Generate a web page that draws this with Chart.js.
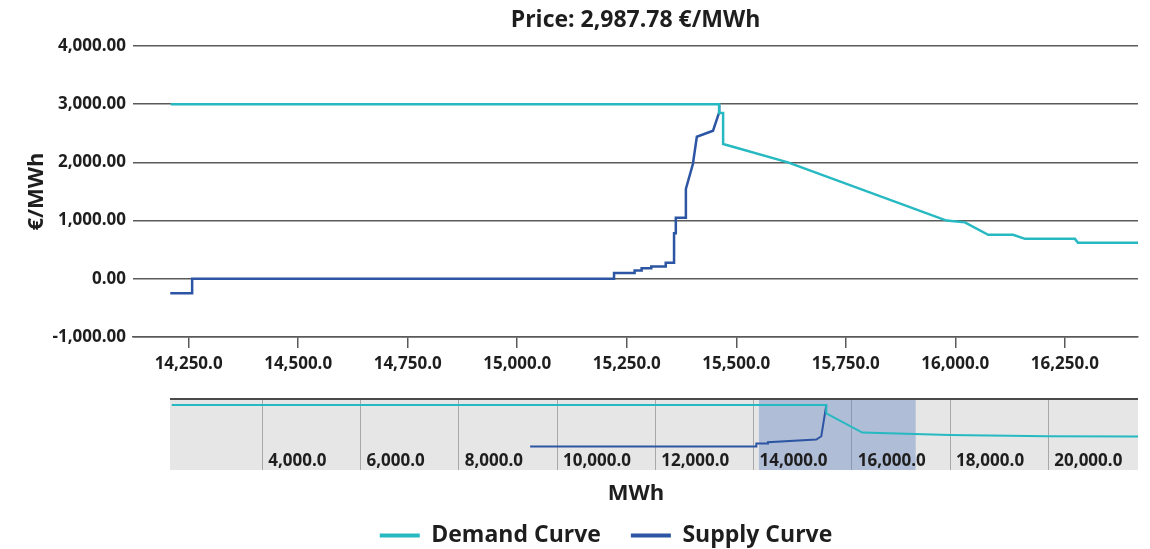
<!DOCTYPE html>
<html><head><meta charset="utf-8">
<script src="https://cdn.jsdelivr.net/npm/chart.js@4.4.1/dist/chart.umd.min.js"></script>
<style>
html,body{margin:0;padding:0;background:#fff;width:1150px;height:549px;overflow:hidden;}
canvas{display:block;}
</style></head><body>
<div style="position:absolute;left:0;top:0;width:1150px;height:385px"><canvas id="main" width="1150" height="385"></canvas></div>
<div style="position:absolute;left:0;top:385px;width:1150px;height:172px"><canvas id="nav" width="1150" height="172"></canvas></div>
<script>
// ---- text ----
const chartTitle = 'Price: 2,987.78 €/MWh';
const yAxisTitle = '€/MWh';
const xAxisTitle = 'MWh';
const seriesNames = ['Demand Curve', 'Supply Curve'];

// ---- main chart data (zoomed view) ----
const demandMWh   = [14209, 15461, 15461, 15470, 15470, 15618, 15980, 16022, 16075, 16132, 16159, 16273, 16280, 16417];
const demandPrice = [3000, 3000, 2847, 2847, 2316, 2000, 1000, 970, 755, 755, 686, 686, 618, 618];
const supplyMWh   = [14208, 14258, 14258, 15221, 15221, 15268, 15268, 15284, 15284, 15306, 15306, 15339, 15339, 15358, 15358, 15362, 15362, 15385, 15385, 15401, 15410, 15447, 15461, 15461];
const supplyPrice = [-250, -250, 0, 0, 100, 100, 142, 142, 183, 183, 211, 211, 274, 274, 784, 784, 1050, 1050, 1544, 1973, 2441, 2544, 2859, 2988];
const mainXRange  = [14123, 16417];
const mainXTicks  = [14250, 14500, 14750, 15000, 15250, 15500, 15750, 16000, 16250];
const mainYTicks  = [-1000, 0, 1000, 2000, 3000, 4000];

// ---- navigator data (full range) ----
const navDemandMWh   = [2157, 15481, 15481, 16213, 17990, 19985, 21825];
const navDemandPrice = [3000, 3000, 2376, 925, 752, 654, 625];
const navSupplyMWh   = [9452, 14057, 14057, 14293, 14293, 15277, 15379, 15481];
const navSupplyPrice = [-130, -130, 100, 100, 200, 400, 650, 3000];
const navXRange      = [2122, 21825];
const navYRange      = [-1890, 3376];
const navXTicks      = [4000, 6000, 8000, 10000, 12000, 14000, 16000, 18000, 20000];
const navSelection   = [14110, 17300];

// ---- style ----
const DEMAND_COLOR = '#27b9c1';
const SUPPLY_COLOR = '#2c55a3';
const GRID_DARK = '#5a5a5a';
const TEXT = '#1e1e1e';
const FONT = "'Open Sans', 'Noto Sans', sans-serif";
Chart.defaults.font.family = FONT;
Chart.defaults.color = TEXT;

const fmt = (v, d) => Number(v).toLocaleString('en-US', {minimumFractionDigits: d, maximumFractionDigits: d});
const pts = (xs, ys) => xs.map((x, i) => ({x, y: ys[i]}));

const titlePlugin = {
  id: 'centerTitle',
  afterDraw(chart) {
    const {ctx, chartArea} = chart;
    ctx.save();
    ctx.font = `bold 23px ${FONT}`;
    ctx.fillStyle = TEXT;
    ctx.textAlign = 'center';
    ctx.textBaseline = 'middle';
    ctx.fillText(chartTitle, (chartArea.left + chartArea.right) / 2, 20);
    ctx.restore();
  }
};

new Chart(document.getElementById('main'), {
  type: 'line',
  data: {
    datasets: [
      {label: seriesNames[0], data: pts(demandMWh, demandPrice), borderColor: DEMAND_COLOR, backgroundColor: DEMAND_COLOR, borderWidth: 2.5, pointRadius: 0, tension: 0, fill: false},
      {label: seriesNames[1], data: pts(supplyMWh, supplyPrice), borderColor: SUPPLY_COLOR, backgroundColor: SUPPLY_COLOR, borderWidth: 2.5, pointRadius: 0, tension: 0, fill: false}
    ]
  },
  options: {
    responsive: false, animation: false,
    layout: {padding: {top: 46, right: 12, left: 0, bottom: 0}},
    plugins: {legend: {display: false}, tooltip: {enabled: false}, title: {display: false}},
    scales: {
      x: {
        type: 'linear', min: mainXRange[0], max: mainXRange[1],
        afterBuildTicks: s => { s.ticks = mainXTicks.map(v => ({value: v})); },
        afterFit: s => { s.height = 48; },
        grid: {drawOnChartArea: false, drawTicks: true, tickLength: 11, color: GRID_DARK, lineWidth: 1.5},
        border: {display: true, color: GRID_DARK, width: 1.5},
        ticks: {font: {size: 17, weight: 'bold'}, color: TEXT, padding: 6, maxRotation: 0, autoSkip: false, callback: v => fmt(v, 1)}
      },
      y: {
        min: mainYTicks[0], max: mainYTicks[mainYTicks.length - 1],
        afterBuildTicks: s => { s.ticks = mainYTicks.map(v => ({value: v})); },
        afterFit: s => { s.width = 133; },
        grid: {color: GRID_DARK, lineWidth: 1.5, drawTicks: false},
        border: {display: false},
        ticks: {font: {size: 17, weight: 'bold'}, color: TEXT, padding: 7, callback: v => fmt(v, 2)},
        title: {display: true, text: yAxisTitle, font: {size: 22, weight: 'bold'}, color: TEXT, padding: {top: 24, bottom: 0}}
      }
    }
  },
  plugins: [titlePlugin]
});

const navPlugin = {
  id: 'navDecor',
  beforeDraw(chart) {
    const {ctx, chartArea: a} = chart;
    ctx.save();
    ctx.fillStyle = '#e6e6e6';
    ctx.fillRect(a.left, a.top, a.right - a.left, a.bottom - a.top);
    ctx.restore();
  },
  beforeDatasetsDraw(chart) {
    const {ctx, chartArea: a, scales: {x}} = chart;
    const x0 = x.getPixelForValue(navSelection[0]);
    const x1 = x.getPixelForValue(navSelection[1]);
    ctx.save();
    ctx.fillStyle = 'rgba(102,133,194,0.42)';
    ctx.fillRect(x0, a.top, x1 - x0, a.bottom - a.top);
    ctx.restore();
  },
  afterDraw(chart) {
    const {ctx, chartArea: a, scales: {x}} = chart;
    ctx.save();
    ctx.strokeStyle = '#4a4a4a';
    ctx.lineWidth = 2;
    ctx.beginPath();
    ctx.moveTo(a.left, a.top - 1);
    ctx.lineTo(a.right, a.top - 1);
    ctx.stroke();
    ctx.font = `bold 17px ${FONT}`;
    ctx.fillStyle = TEXT;
    ctx.textAlign = 'left';
    ctx.textBaseline = 'middle';
    navXTicks.forEach(v => ctx.fillText(fmt(v, 1), x.getPixelForValue(v) + 6, a.bottom - 9));
    ctx.font = `bold 22px ${FONT}`;
    ctx.textAlign = 'center';
    ctx.fillText(xAxisTitle, 636, a.bottom + 24);
    ctx.restore();
  }
};

new Chart(document.getElementById('nav'), {
  type: 'line',
  data: {
    datasets: [
      {label: seriesNames[0], data: pts(navDemandMWh, navDemandPrice), borderColor: DEMAND_COLOR, backgroundColor: DEMAND_COLOR, borderWidth: 2, pointRadius: 0, tension: 0, fill: false},
      {label: seriesNames[1], data: pts(navSupplyMWh, navSupplyPrice), borderColor: SUPPLY_COLOR, backgroundColor: SUPPLY_COLOR, borderWidth: 2, pointRadius: 0, tension: 0, fill: false}
    ]
  },
  options: {
    responsive: false, animation: false,
    layout: {padding: {top: 15, right: 12, left: 74, bottom: 0}},
    plugins: {
      tooltip: {enabled: false},
      legend: {
        display: true, position: 'bottom',
        labels: {
          usePointStyle: true, pointStyle: 'line', pointStyleWidth: 40,
          font: {size: 23, weight: 'bold'}, color: TEXT, padding: 30,
          generateLabels: c => Chart.defaults.plugins.legend.labels.generateLabels(c).map(l => ({...l, lineWidth: 4, pointStyle: 'line'}))
        }
      }
    },
    scales: {
      x: {
        type: 'linear', min: navXRange[0], max: navXRange[1],
        afterBuildTicks: s => { s.ticks = navXTicks.map(v => ({value: v})); },
        afterFit: s => { s.height = 24; },
        grid: {color: '#a8a8a8', lineWidth: 1, drawTicks: false},
        border: {display: false},
        ticks: {display: false}
      },
      y: {
        min: navYRange[0], max: navYRange[1],
        afterFit: s => { s.width = 96; },
        grid: {display: false}, border: {display: false},
        ticks: {display: false}
      }
    }
  },
  plugins: [navPlugin]
});
</script>
</body></html>
